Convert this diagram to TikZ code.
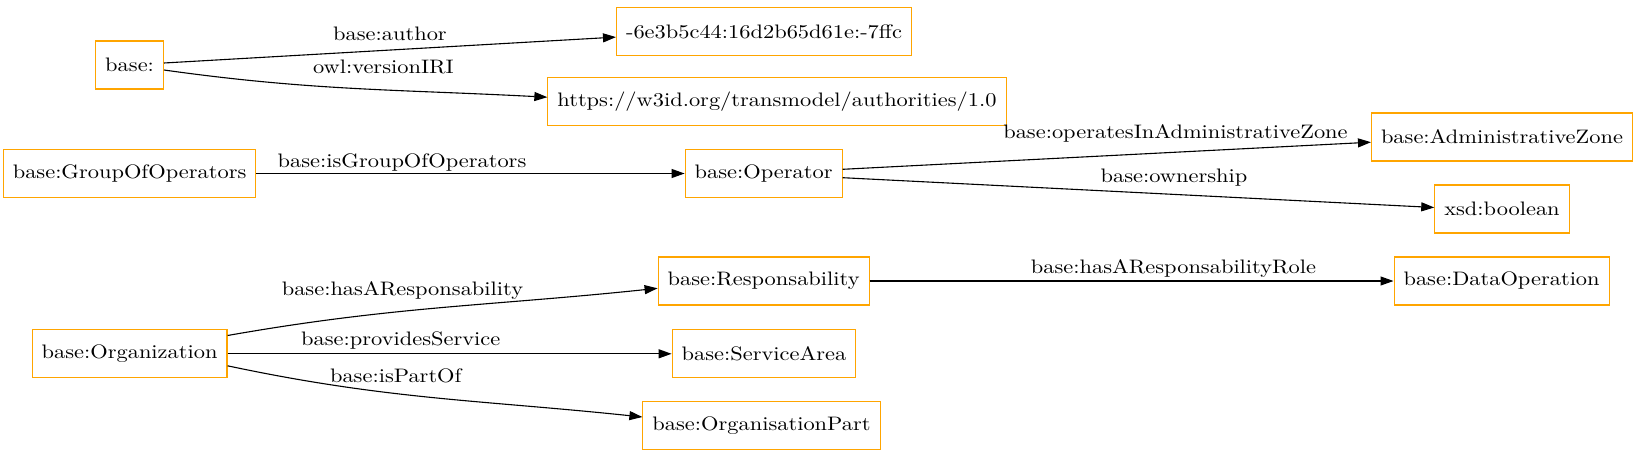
\documentclass[tikz,border=0pt]{standalone}
\usepackage{fontspec}
\setmainfont{lmroman10-regular.otf}[FakeStretch=1.15]
\usepackage{tikz}
\usetikzlibrary{arrows.meta,positioning}
\definecolor{gvorange}{HTML}{FFA500}

\tikzset{
  cls/.style={draw=gvorange, line width=1.1pt, minimum height=48pt, inner xsep=9.5pt,
    font=\fontsize{19.5}{23}\selectfont},
  rel/.style={-{Triangle[length=13pt,width=9pt]}, line width=1.1pt},
  lbl/.style={inner sep=0pt, font=\fontsize{19.5}{23}\selectfont},
}

\begin{document}
\begin{tikzpicture}[x=1pt,y=-1pt]
\useasboundingbox (0,0) rectangle (1639,455);

% classes
\node[cls] (base) at (129.6,65) {base:};
\node[cls] (authorid) at (764,31.4) {-6e3b5c44:16d2b65d61e:-7ffc};
\node[cls] (versioniri) at (777,101.4) {https://w3id.org/transmodel/authorities/1.0};
\node[cls] (groupops) at (129.6,173.5) {base:GroupOfOperators};
\node[cls] (operator) at (763.6,173.5) {base:Operator};
\node[cls] (adminzone) at (1502,137) {base:AdministrativeZone};
\node[cls] (xsdbool) at (1502,209) {xsd:boolean};
\node[cls] (resp) at (763.6,281) {base:Responsability};
\node[cls] (dataop) at (1501.6,281) {base:DataOperation};
\node[cls] (org) at (129.6,353.8) {base:Organization};
\node[cls] (servicearea) at (764,353.8) {base:ServiceArea};
\node[cls] (orgpart) at (761.5,425.4) {base:OrganisationPart};

% properties
\draw[rel] ([yshift=2pt]base.east) -- node[lbl,above=9pt] {base:author} ([yshift=-5.7pt]authorid.west);
\draw[rel] ([yshift=-5pt]base.east) to[out=-8,in=177] node[lbl,pos=.58,above=15pt] {owl:versionIRI} ([yshift=4.2pt]versioniri.west);
\draw[rel] (groupops) -- node[lbl,pos=.34,above=2pt] {base:isGroupOfOperators} (operator);
\draw[rel] ([yshift=4.2pt]operator.east) -- node[lbl,pos=.63,above=9pt] {base:operatesInAdministrativeZone} ([yshift=-5.2pt]adminzone.west);
\draw[rel] ([yshift=-4.2pt]operator.east) -- node[lbl,pos=.56,above=8pt] {base:ownership} ([yshift=1.5pt]xsdbool.west);
\draw[rel] (resp) -- node[lbl,pos=.58,above=2.5pt] {base:hasAResponsabilityRole} (dataop);
\draw[rel] ([yshift=18.3pt]org.east) to[out=10,in=186] node[lbl,pos=.4,above=11pt] {base:hasAResponsability} ([yshift=-7.3pt]resp.west);
\draw[rel] (org) -- node[lbl,pos=.39,above=4pt] {base:providesService} (servicearea);
\draw[rel] ([yshift=-12pt]org.east) to[out=-12,in=174] node[lbl,pos=.4,above=10pt] {base:isPartOf} ([yshift=8.4pt]orgpart.west);
\end{tikzpicture}
\end{document}
